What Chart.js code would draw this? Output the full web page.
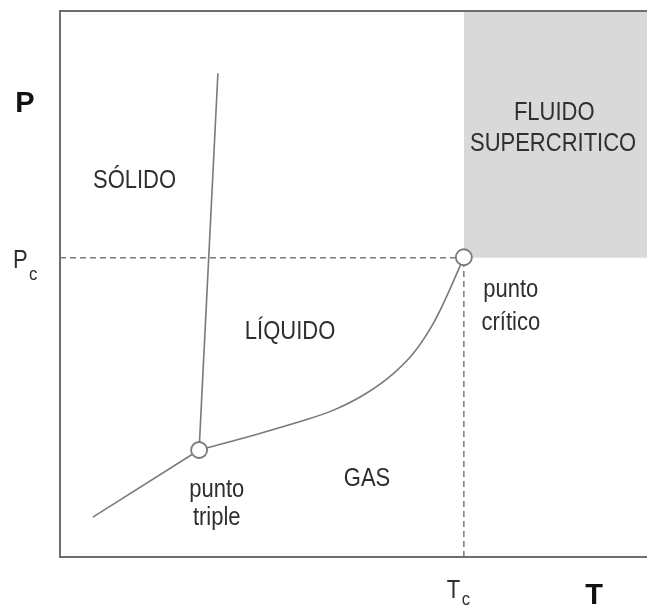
<!DOCTYPE html>
<html>
<head>
<meta charset="utf-8">
<script src="https://cdn.jsdelivr.net/npm/chart.js@4/dist/chart.umd.min.js"></script>
<style>
  html, body { margin: 0; padding: 0; background: #fff; overflow: hidden; }
  canvas { display: block; }
</style>
</head>
<body>
<canvas id="chart" width="647" height="610"></canvas>
<script>
// Phase diagram data (arbitrary units, 0-100 on both axes)
const criticalT = 68.8
const criticalP = 54.8
const triplePoint = { x: 23.7, y: 19.6 }
const criticalPoint = { x: 68.8, y: 54.9 }

const sublimationT = [5.6, 23.7]
const sublimationP = [7.3, 19.6]

const fusionT = [23.7, 26.9]
const fusionP = [19.6, 88.6]

const vaporT = [23.7, 33.6, 40.9, 46.6, 52.2, 56.8, 60.2, 63.6, 65.6, 68.8]
const vaporP = [19.6, 22.5, 24.8, 26.9, 30.0, 33.6, 37.3, 42.8, 47.1, 54.9]

const toPoints = (xs, ys) => xs.map((x, i) => ({ x, y: ys[i] }))

const lineGray = '#7a7a7a'
const textGray = '#2f2f2f'
const FONT = '"Liberation Sans", Arial, sans-serif'

// region labels, placed in data units
const regionLabels = [
  { text: 'SÓLIDO', x: 12.7, y: 67.6 },
  { text: 'LÍQUIDO', x: 39.2, y: 39.9 },
  { text: 'GAS', x: 52.3, y: 13.0 },
  { text: 'FLUIDO', x: 84.2, y: 80.0 },
  { text: 'SUPERCRITICO', x: 84.0, y: 74.4 },
  { text: 'punto', x: 76.8, y: 47.6 },
  { text: 'crítico', x: 76.8, y: 41.6 },
  { text: 'punto', x: 26.7, y: 11.0 },
  { text: 'triple', x: 26.7, y: 5.9 }
]

const drawNarrow = (ctx, text, x, y, size, weight, align) => {
  ctx.save()
  ctx.translate(x, y)
  ctx.scale(0.88, 1)
  ctx.font = `${weight} ${size}px ${FONT}`
  ctx.textAlign = align
  ctx.textBaseline = 'alphabetic'
  ctx.fillText(text, 0, 0)
  ctx.restore()
}

const framePlugin = {
  id: 'frame',
  afterDatasetsDraw(chart) {
    const { ctx, chartArea: a } = chart
    ctx.save()
    ctx.strokeStyle = '#6e6e6e'
    ctx.lineWidth = 2
    ctx.beginPath()
    ctx.moveTo(a.right + 2, a.top)
    ctx.lineTo(a.left, a.top)
    ctx.lineTo(a.left, a.bottom)
    ctx.lineTo(a.right + 2, a.bottom)
    ctx.stroke()
    ctx.restore()
  },
  afterDraw(chart) {
    const { ctx, scales } = chart
    const xs = scales.x
    const ys = scales.y
    ctx.save()
    ctx.fillStyle = textGray
    regionLabels.forEach(l => {
      drawNarrow(ctx, l.text, xs.getPixelForValue(l.x), ys.getPixelForValue(l.y), 25, 'normal', 'center')
    })

    // axis names
    ctx.fillStyle = '#111'
    ctx.font = `bold 29px ${FONT}`
    ctx.textAlign = 'center'
    ctx.fillText('P', 25, 112)
    ctx.fillText('T', 594, 604)

    // Pc and Tc marks
    ctx.fillStyle = textGray
    const pcY = ys.getPixelForValue(criticalP)
    drawNarrow(ctx, 'P', 13, pcY + 10, 25, 'normal', 'left')
    drawNarrow(ctx, 'c', 29, pcY + 22, 19, 'normal', 'left')
    const tcX = xs.getPixelForValue(criticalT)
    drawNarrow(ctx, 'T', tcX - 17, 598, 25, 'normal', 'left')
    drawNarrow(ctx, 'c', tcX - 2, 605, 19, 'normal', 'left')
    ctx.restore()
  }
}

new Chart(document.getElementById('chart'), {
  type: 'scatter',
  data: {
    datasets: [
      {
        label: 'puntos',
        data: [triplePoint, criticalPoint],
        showLine: false,
        pointRadius: 8,
        pointBackgroundColor: '#fff',
        pointBorderColor: lineGray,
        pointBorderWidth: 1.8,
        order: 0,
        clip: false
      },
      {
        label: 'vaporización',
        data: toPoints(vaporT, vaporP),
        showLine: true,
        borderColor: lineGray,
        borderWidth: 1.6,
        pointRadius: 0,
        cubicInterpolationMode: 'monotone',
        order: 1
      },
      {
        label: 'fusión',
        data: toPoints(fusionT, fusionP),
        showLine: true,
        borderColor: lineGray,
        borderWidth: 1.6,
        pointRadius: 0,
        order: 1
      },
      {
        label: 'sublimación',
        data: toPoints(sublimationT, sublimationP),
        showLine: true,
        borderColor: lineGray,
        borderWidth: 1.6,
        pointRadius: 0,
        order: 1
      },
      {
        label: 'Pc',
        data: [{ x: 0, y: criticalP }, { x: criticalT, y: criticalP }],
        showLine: true,
        borderColor: lineGray,
        borderWidth: 1.5,
        borderDash: [6, 4],
        pointRadius: 0,
        order: 2
      },
      {
        label: 'Tc',
        data: [{ x: criticalT, y: 0 }, { x: criticalT, y: criticalP }],
        showLine: true,
        borderColor: lineGray,
        borderWidth: 1.5,
        borderDash: [6, 4],
        pointRadius: 0,
        order: 2
      },
      {
        label: 'supercrítico',
        data: [{ x: criticalT, y: criticalP }, { x: 100, y: criticalP }],
        showLine: true,
        borderWidth: 0,
        pointRadius: 0,
        backgroundColor: '#d9d9d9',
        fill: 'end',
        order: 5
      }
    ]
  },
  options: {
    responsive: false,
    animation: false,
    events: [],
    layout: { autoPadding: false, padding: { left: 60, top: 11, right: 0, bottom: 53 } },
    plugins: {
      legend: { display: false },
      tooltip: { enabled: false }
    },
    scales: {
      x: { type: 'linear', min: 0, max: 100, display: false },
      y: { type: 'linear', min: 0, max: 100, display: false }
    }
  },
  plugins: [framePlugin]
})
</script>
</body>
</html>
